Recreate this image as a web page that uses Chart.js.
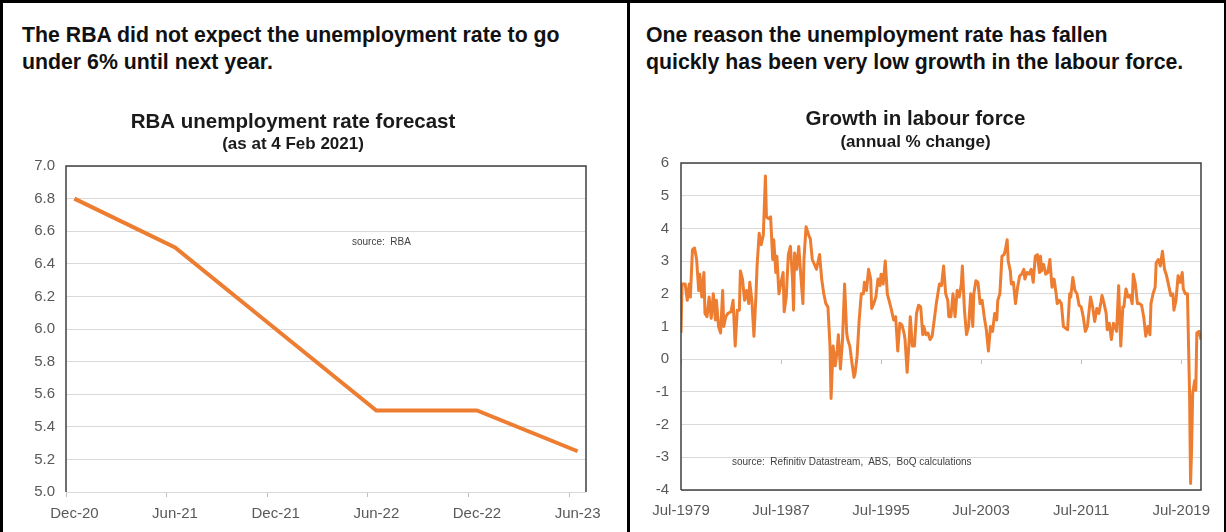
<!DOCTYPE html>
<html>
<head>
<meta charset="utf-8">
<script src="https://cdn.jsdelivr.net/npm/chart.js@4.4.1/dist/chart.umd.min.js"></script>
<style>
    body {
        margin: 0;
        width: 1226px;
        height: 532px;
        position: relative;
        overflow: hidden;
        background: #fff;
        font-family: "Liberation Sans", Arial, sans-serif;
    }
    .frame {
        position: absolute;
        left: 0;
        top: 0;
        width: 1226px;
        height: 532px;
        box-sizing: border-box;
        border-top: 3px solid #000;
        border-left: 3px solid #000;
        border-right: 2px solid #000;
    }
    .divider {
        position: absolute;
        left: 627px;
        top: 0;
        width: 3px;
        height: 532px;
        background: #000;
    }
    .heading {
        position: absolute;
        top: 22px;
        font-size: 21.3px;
        font-weight: bold;
        line-height: 27px;
        color: #111;
        white-space: nowrap;
    }
    .chart-box {
        position: absolute;
        top: 96px;
        height: 436px;
    }
    .source {
        position: absolute;
        font-size: 10px;
        line-height: 12px;
        color: #404040;
        white-space: pre;
    }
</style>
</head>
<body>
<div class="frame"></div>
<div class="divider"></div>

<div class="heading" style="left:22px">The RBA did not expect the unemployment rate to go<br>under 6% until next year.</div>
<div class="heading" style="left:646px">One reason the unemployment rate has fallen<br>quickly has been very low growth in the labour force.</div>

<div class="chart-box" style="left:0; width:626px"><canvas id="forecastChart"></canvas></div>
<div class="chart-box" style="left:630px; width:596px"><canvas id="labourChart"></canvas></div>

<div class="source" style="left:352px; top:236px">source:  RBA</div>
<div class="source" style="left:732px; top:456px">source:  Refinitiv Datastream,  ABS,  BoQ calculations</div>

<script>
// RBA forecast: monthly category slots, values only at forecast dates
const forecastMonths = [
    "Dec-20", "Jan-21", "Feb-21", "Mar-21", "Apr-21", "May-21", "Jun-21",
    "Jul-21", "Aug-21", "Sep-21", "Oct-21", "Nov-21", "Dec-21",
    "Jan-22", "Feb-22", "Mar-22", "Apr-22", "May-22", "Jun-22",
    "Jul-22", "Aug-22", "Sep-22", "Oct-22", "Nov-22", "Dec-22",
    "Jan-23", "Feb-23", "Mar-23", "Apr-23", "May-23", "Jun-23"
];
const forecastDates = ["Dec-20", "Jun-21", "Dec-21", "Jun-22", "Dec-22", "Jun-23"];
const forecastRates = [6.8, 6.5, 6.0, 5.5, 5.5, 5.25];

// labour force growth: months since Jul-1979 and annual % change
const labourMonths = [
    0, 1, 4, 6, 8, 9, 11, 13, 15, 17, 18, 20, 22, 23, 25, 27, 29, 31, 33, 34,
    36, 38, 40, 41, 43, 45, 48, 50, 52, 54, 56, 57, 59, 61, 63, 65, 66, 68, 70, 72,
    73, 75, 77, 79, 81, 82, 84, 86, 88, 89, 91, 92, 94, 96, 98, 99, 101, 103, 105, 107,
    108, 109, 111, 113, 115, 117, 118, 120, 123, 124, 126, 128, 130, 133, 135, 137, 139, 141, 143, 144,
    146, 148, 150, 151, 153, 155, 157, 159, 160, 162, 164, 166, 167, 169, 171, 173, 175, 176, 178, 180,
    182, 183, 185, 187, 189, 191, 192, 194, 196, 198, 200, 202, 204, 206, 208, 210, 212, 214, 215, 217,
    219, 220, 222, 224, 226, 228, 230, 232, 233, 235, 237, 239, 241, 243, 245, 248, 250, 252, 254, 256,
    257, 259, 261, 263, 265, 267, 269, 270, 272, 274, 276, 278, 280, 281, 283, 285, 287, 289, 291, 293,
    295, 297, 299, 301, 303, 304, 306, 308, 310, 311, 313, 314, 316, 317, 319, 321, 323, 325, 327, 329,
    330, 332, 334, 336, 338, 340, 342, 344, 345, 346, 348, 350, 352, 354, 356, 358, 360, 361, 363, 365,
    367, 369, 371, 373, 374, 376, 378, 380, 382, 384, 386, 388, 390, 392, 393, 395, 397, 399, 401, 403,
    404, 406, 408, 409, 411, 413, 415, 417, 418, 420, 421, 422, 424, 425, 427, 429, 431, 433, 434, 436,
    438, 440, 442, 444, 446, 448, 450, 451, 453, 455, 456, 458, 460, 462, 464, 466, 468, 470, 472, 473,
    475, 477, 479, 481, 482, 484, 486, 488, 489, 490, 491, 493, 494, 495, 497, 499
];
const labourGrowth = [
    0.8, 2.3, 2.3, 1.8, 2.3, 1.9, 3.35, 3.4, 3.05, 2.1, 2.6, 1.9, 2.65, 1.4, 1.3, 1.9, 1.25, 2.0, 1.2, 1.8,
    1.0, 0.8, 2.1, 1.0, 1.3, 1.4, 1.45, 1.8, 0.4, 1.5, 1.5, 2.7, 2.45, 1.8, 2.1, 1.7, 2.35, 1.8, 0.7, 2.0,
    2.85, 3.85, 3.5, 3.8, 5.6, 4.35, 4.3, 4.35, 3.05, 3.65, 2.65, 3.15, 2.0, 2.35, 2.65, 1.45, 1.9, 3.2, 3.45, 2.45,
    1.5, 3.25, 2.75, 3.45, 2.55, 1.7, 3.05, 4.05, 3.75, 3.7, 3.05, 2.9, 2.75, 3.2, 2.45, 2.0, 1.7, 1.6, 0.4, -1.2,
    0.4, -0.2, 0.3, 0.75, -0.3, 0.6, 2.3, 0.8, 0.6, 0.4, -0.1, -0.55, -0.45, 0.1, 1.2, 2.0, 2.0, 2.35, 2.1, 2.75,
    2.45, 1.55, 1.7, 1.9, 2.45, 2.25, 2.6, 2.3, 3.0, 2.0, 1.75, 1.5, 1.2, 1.3, 0.25, 1.1, 1.05, 0.8, 0.6, -0.4,
    0.6, 1.3, 0.4, 0.4, 1.4, 1.65, 1.6, 0.75, 1.0, 0.75, 0.8, 0.6, 0.7, 1.2, 1.7, 2.3, 2.25, 2.85, 2.0, 1.8,
    1.3, 1.3, 2.0, 1.3, 2.1, 1.9, 2.3, 2.85, 1.5, 0.75, 1.0, 2.0, 1.0, 2.0, 2.4, 2.35, 1.7, 1.8, 1.3, 0.9,
    0.25, 1.0, 0.85, 1.4, 1.2, 1.8, 2.0, 3.15, 3.2, 3.3, 3.65, 3.0, 2.7, 2.3, 2.35, 1.7, 2.2, 2.55, 2.6, 2.75,
    2.45, 2.65, 2.6, 2.75, 2.35, 3.15, 3.2, 2.65, 3.15, 2.7, 2.9, 2.6, 2.65, 3.05, 2.2, 2.45, 2.0, 1.7, 1.8, 1.7,
    1.0, 0.95, 0.9, 2.0, 1.9, 2.5, 2.1, 2.0, 1.65, 1.6, 1.3, 0.85, 1.0, 1.6, 1.9, 1.6, 1.15, 1.55, 1.4, 1.75,
    1.95, 1.7, 1.4, 0.9, 1.1, 0.6, 1.1, 0.95, 0.85, 2.25, 1.3, 0.4, 1.6, 1.6, 2.15, 1.9, 1.95, 1.7, 2.6, 2.3,
    1.7, 1.7, 1.65, 1.3, 0.7, 1.0, 0.75, 1.7, 2.0, 2.2, 2.95, 3.05, 2.85, 3.3, 2.75, 2.55, 2.25, 1.95, 2.0, 1.5,
    1.8, 2.55, 2.35, 2.65, 2.15, 2.0, 2.0, -1.0, -3.8, -2.7, -1.05, -0.65, -0.95, 0.8, 0.85, 0.6
];
const labourTickLabels = ["Jul-1979", "Jul-1987", "Jul-1995", "Jul-2003", "Jul-2011", "Jul-2019"];

const orange = "#ED7D31";
const tickFont = { family: "'Liberation Sans', Arial, sans-serif", size: 15 };
const titleFont = { family: "'Liberation Sans', Arial, sans-serif", size: 20.5, weight: "bold" };
const subtitleFont = { family: "'Liberation Sans', Arial, sans-serif", size: 17, weight: "bold" };

// dark frame round the plot area, sides picked per chart
const plotFrame = {
    id: "plotFrame",
    afterDraw(chart, args, opts) {
        const { ctx, chartArea: a } = chart;
        ctx.save();
        ctx.strokeStyle = "#404040";
        ctx.lineWidth = 1.5;
        ctx.beginPath();
        ctx.moveTo(a.left, a.bottom);
        ctx.lineTo(a.left, a.top);
        ctx.lineTo(a.right, a.top);
        ctx.lineTo(a.right, a.bottom);
        if (opts.bottom) ctx.lineTo(a.left, a.bottom);
        ctx.stroke();
        ctx.restore();
    }
};

new Chart(document.getElementById("forecastChart"), {
    type: "line",
    data: {
        labels: forecastMonths,
        datasets: [{
            data: forecastDates.map((d, i) => ({ x: d, y: forecastRates[i] })),
            borderColor: orange,
            borderWidth: 4,
            pointRadius: 0,
            tension: 0,
            spanGaps: true
        }]
    },
    options: {
        responsive: true,
        maintainAspectRatio: false,
        animation: false,
        layout: { padding: { left: 0, right: 40, top: 0, bottom: 0 } },
        plugins: {
            legend: { display: false },
            tooltip: { enabled: false },
            title: {
                display: true,
                text: "RBA unemployment rate forecast",
                color: "#1a1a1a",
                font: titleFont,
                padding: { top: 14, bottom: 0 }
            },
            subtitle: {
                display: true,
                text: "(as at 4 Feb 2021)",
                color: "#1a1a1a",
                font: subtitleFont,
                padding: { top: 0, bottom: 11 }
            },
            plotFrame: { bottom: false }
        },
        scales: {
            x: {
                type: "category",
                offset: true,
                afterFit: (scale) => { scale.height = 40; },
                border: { display: false },
                grid: {
                    offset: true,
                    drawOnChartArea: false,
                    drawTicks: true,
                    tickLength: 5,
                    color: (c) => c.index % 6 === 0 ? "#bfbfbf" : "rgba(0,0,0,0)",
                    tickColor: (c) => c.index % 6 === 0 ? "#bfbfbf" : "rgba(0,0,0,0)"
                },
                ticks: {
                    autoSkip: false,
                    maxRotation: 0,
                    padding: 8,
                    color: "#595959",
                    font: tickFont,
                    callback: function (value, index) {
                        return index % 6 === 0 ? this.getLabelForValue(value) : "";
                    }
                }
            },
            y: {
                min: 5,
                max: 7,
                afterFit: (scale) => { scale.width = 66; },
                border: { display: false },
                grid: { color: "#d9d9d9", drawTicks: false },
                ticks: {
                    stepSize: 0.2,
                    padding: 11,
                    color: "#595959",
                    font: tickFont,
                    callback: (v) => v.toFixed(1)
                }
            }
        }
    },
    plugins: [plotFrame]
});

new Chart(document.getElementById("labourChart"), {
    type: "line",
    data: {
        datasets: [{
            data: labourMonths.map((m, i) => ({ x: m, y: labourGrowth[i] })),
            borderColor: orange,
            borderWidth: 3,
            borderJoinStyle: "round",
            pointRadius: 0,
            tension: 0
        }]
    },
    options: {
        responsive: true,
        maintainAspectRatio: false,
        animation: false,
        layout: { padding: { left: 0, right: 25, top: 0, bottom: 0 } },
        plugins: {
            legend: { display: false },
            tooltip: { enabled: false },
            title: {
                display: true,
                text: "Growth in labour force",
                color: "#1a1a1a",
                font: titleFont,
                padding: { top: 11, bottom: 0 }
            },
            subtitle: {
                display: true,
                text: "(annual % change)",
                color: "#1a1a1a",
                font: subtitleFont,
                padding: { top: 1, bottom: 10 }
            },
            plotFrame: { bottom: true }
        },
        scales: {
            x: {
                type: "linear",
                min: 0,
                max: 499,
                afterFit: (scale) => { scale.height = 42; },
                border: { display: false },
                grid: { display: false },
                ticks: {
                    stepSize: 96,
                    includeBounds: false,
                    maxRotation: 0,
                    autoSkip: false,
                    padding: 4,
                    color: "#595959",
                    font: tickFont,
                    callback: (v) => labourTickLabels[Math.round(v / 96)]
                }
            },
            xZero: {
                type: "linear",
                axis: "x",
                position: { y: 0 },
                min: 0,
                max: 499,
                afterFit: (scale) => { scale.height = 0; },
                border: { display: false },
                grid: {
                    drawOnChartArea: false,
                    drawTicks: true,
                    tickLength: 5,
                    color: "#bfbfbf"
                },
                ticks: { display: false, stepSize: 96, includeBounds: false }
            },
            y: {
                min: -4,
                max: 6,
                afterFit: (scale) => { scale.width = 51; },
                border: { display: false },
                grid: { color: "#d9d9d9", drawTicks: false },
                ticks: {
                    stepSize: 1,
                    padding: 12,
                    color: "#595959",
                    font: tickFont
                }
            }
        }
    },
    plugins: [plotFrame]
});
</script>
</body>
</html>
